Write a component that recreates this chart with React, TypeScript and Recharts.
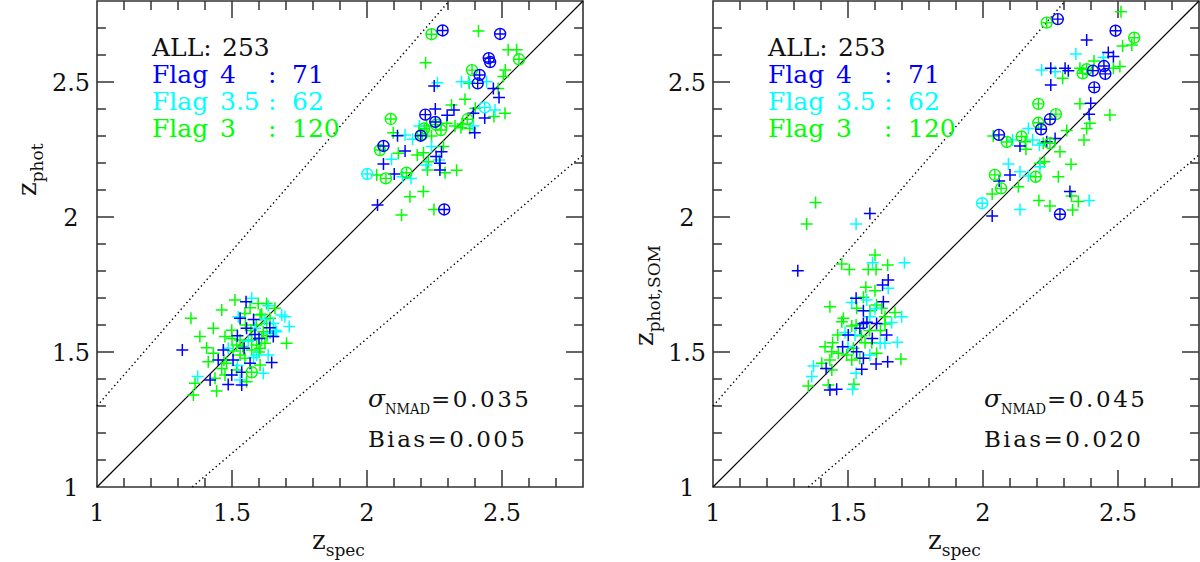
import React from 'react';
import { ScatterChart, Scatter, XAxis, YAxis, ReferenceLine, ReferenceArea } from 'recharts';

type Pt = [number, number];

const axisMin = 1;
const axisMax = 2.8;
const majorTicks = [1, 1.5, 2, 2.5];
const minorTicks = [1.1, 1.2, 1.3, 1.4, 1.6, 1.7, 1.8, 1.9, 2.1, 2.2, 2.3, 2.4, 2.6, 2.7];
const outlierFrac = 0.15;

// ---- left panel: z_phot vs z_spec ----
const photFlag4Ring: Pt[] = [
  [2.28, 2.691], [2.493, 2.678], [2.451, 2.588], [2.456, 2.574], [2.417, 2.526], [2.41, 2.495],
  [2.216, 2.379], [2.253, 2.352], [2.199, 2.301], [2.061, 2.263], [2.286, 2.028],
];
const photFlag35Ring: Pt[] = [[2.436, 2.406], [2.001, 2.159]];
const photFlag3Ring: Pt[] = [
  [2.239, 2.677], [2.563, 2.584], [2.389, 2.544], [2.372, 2.362], [2.088, 2.363], [2.256, 2.342],
  [2.274, 2.322], [2.212, 2.328], [2.205, 2.306], [2.048, 2.248], [2.146, 2.164], [2.07, 2.143],
  [1.573, 1.425],
];
const photFlag4: Pt[] = [
  [2.249, 2.485], [2.468, 2.476], [2.489, 2.443], [2.253, 2.4], [2.322, 2.396], [2.297, 2.377],
  [2.394, 2.384], [2.436, 2.367], [2.113, 2.301], [2.399, 2.312], [2.141, 2.244], [2.061, 2.196],
  [2.276, 2.242], [2.256, 2.224], [2.27, 2.199], [2.27, 2.174], [2.101, 2.159], [2.039, 2.044],
  [1.552, 1.686], [1.53, 1.625], [1.554, 1.588], [1.585, 1.565], [1.653, 1.557], [1.316, 1.507],
  [1.468, 1.507], [1.545, 1.514], [1.449, 1.47], [1.504, 1.47], [1.567, 1.458], [1.647, 1.461],
  [1.536, 1.425], [1.419, 1.396], [1.499, 1.415], [1.486, 1.38], [1.536, 1.378], [1.6, 1.55],
  [1.58, 1.62], [1.64, 1.59], [1.52, 1.56],
];
const photFlag35: Pt[] = [
  [2.261, 2.497], [2.35, 2.501], [2.376, 2.501], [2.443, 2.501], [2.474, 2.396], [2.141, 2.304],
  [2.169, 2.288], [2.194, 2.337], [2.394, 2.337], [2.091, 2.214], [2.239, 2.261], [2.267, 2.211],
  [2.219, 2.193], [2.132, 2.149], [2.163, 2.143],
  [1.573, 1.699], [1.634, 1.671], [1.684, 1.637], [1.696, 1.631], [1.523, 1.631], [1.653, 1.606],
  [1.712, 1.594], [1.585, 1.588], [1.641, 1.569], [1.486, 1.514], [1.591, 1.489], [1.634, 1.489],
  [1.616, 1.421], [1.373, 1.409], [1.53, 1.396], [1.665, 1.575], [1.62, 1.62], [1.56, 1.54],
  [1.66, 1.58], [1.52, 1.45], [1.58, 1.48],
];
const photFlag3: Pt[] = [
  [2.413, 2.689], [2.217, 2.571], [2.523, 2.619], [2.554, 2.619], [2.512, 2.544], [2.505, 2.52],
  [2.379, 2.495], [2.486, 2.476], [2.363, 2.436], [2.313, 2.415], [2.401, 2.403], [2.511, 2.384],
  [2.47, 2.372], [2.097, 2.312], [2.221, 2.337], [2.239, 2.3], [2.295, 2.347], [2.326, 2.337],
  [2.354, 2.344], [2.381, 2.328], [2.348, 2.331], [2.116, 2.236], [2.186, 2.23], [2.209, 2.238],
  [2.283, 2.261], [2.227, 2.205], [2.224, 2.174], [2.289, 2.164], [2.332, 2.173], [2.036, 2.156],
  [2.209, 2.094], [2.159, 2.075], [2.248, 2.028], [2.128, 2.007],
  [1.511, 1.693], [1.597, 1.68], [1.567, 1.664], [1.462, 1.656], [1.659, 1.662], [1.628, 1.68],
  [1.348, 1.625], [1.548, 1.643], [1.604, 1.637], [1.641, 1.625], [1.628, 1.606], [1.431, 1.588],
  [1.499, 1.581], [1.616, 1.575], [1.381, 1.557], [1.474, 1.557], [1.61, 1.551], [1.573, 1.544],
  [1.53, 1.544], [1.517, 1.526], [1.591, 1.526], [1.622, 1.532], [1.702, 1.532], [1.406, 1.516],
  [1.504, 1.504], [1.573, 1.507], [1.604, 1.514], [1.431, 1.495], [1.53, 1.489], [1.548, 1.477],
  [1.412, 1.464], [1.48, 1.458], [1.604, 1.452], [1.462, 1.439], [1.517, 1.433], [1.474, 1.415],
  [1.437, 1.403], [1.363, 1.384], [1.554, 1.39], [1.443, 1.356], [1.357, 1.341], [1.59, 1.6],
  [1.57, 1.58], [1.63, 1.56], [1.6, 1.5], [1.55, 1.6], [1.61, 1.64], [1.5, 1.55], [1.54, 1.52],
  [1.47, 1.47],
];

// ---- right panel: z_phot,SOM vs z_spec ----
const somFlag4Ring: Pt[] = [
  [2.277, 2.733], [2.491, 2.69], [2.407, 2.542], [2.448, 2.559], [2.453, 2.53], [2.412, 2.48],
  [2.248, 2.362], [2.215, 2.325], [2.059, 2.304], [2.285, 2.01],
];
const somFlag35Ring: Pt[] = [[1.997, 2.051]];
const somFlag3Ring: Pt[] = [
  [2.236, 2.72], [2.56, 2.664], [2.369, 2.532], [2.384, 2.547], [2.205, 2.419], [2.27, 2.381],
  [2.205, 2.349], [2.143, 2.298], [2.088, 2.278], [2.248, 2.273], [2.044, 2.156], [2.195, 2.149],
  [2.067, 2.106],
];
const somFlag4: Pt[] = [
  [2.384, 2.656], [2.464, 2.609], [2.483, 2.594], [2.251, 2.551], [2.304, 2.551], [2.316, 2.542],
  [2.251, 2.489], [2.399, 2.421], [2.393, 2.381], [2.137, 2.263], [2.236, 2.279], [2.267, 2.291],
  [2.1, 2.156], [2.06, 2.133], [2.322, 2.094], [2.034, 2.004],
  [1.581, 2.013], [1.314, 1.801], [1.649, 1.767], [1.628, 1.748], [1.53, 1.699], [1.631, 1.686],
  [1.557, 1.653], [1.557, 1.606], [1.544, 1.588], [1.606, 1.606], [1.501, 1.563], [1.643, 1.563],
  [1.48, 1.519], [1.532, 1.501], [1.557, 1.477], [1.604, 1.456], [1.647, 1.464], [1.419, 1.439],
  [1.551, 1.436], [1.433, 1.359], [1.458, 1.362], [1.57, 1.61], [1.59, 1.55],
];
const somFlag35: Pt[] = [
  [2.344, 2.604], [2.446, 2.591], [2.217, 2.544], [2.267, 2.538], [2.168, 2.328], [2.11, 2.285],
  [2.184, 2.285], [2.209, 2.267], [2.094, 2.196], [2.137, 2.168], [2.168, 2.152], [2.211, 2.186],
  [2.393, 2.061], [2.137, 2.028],
  [1.53, 1.974], [1.591, 1.831], [1.709, 1.831], [1.649, 1.736], [1.569, 1.693], [1.514, 1.683],
  [1.699, 1.631], [1.581, 1.631], [1.662, 1.609], [1.489, 1.572], [1.526, 1.563], [1.619, 1.532],
  [1.637, 1.532], [1.683, 1.536], [1.581, 1.489], [1.372, 1.448], [1.53, 1.421], [1.366, 1.409],
  [1.517, 1.362], [1.6, 1.66], [1.5, 1.52],
];
const somFlag3: Pt[] = [
  [2.511, 2.76], [2.517, 2.633], [2.551, 2.637], [2.411, 2.578], [2.507, 2.557], [2.483, 2.551],
  [2.295, 2.514], [2.359, 2.551], [2.359, 2.419], [2.47, 2.378], [2.396, 2.347], [2.384, 2.328],
  [2.31, 2.32], [2.038, 2.3], [2.156, 2.279], [2.159, 2.251], [2.223, 2.273], [2.285, 2.242],
  [2.374, 2.285], [2.211, 2.199], [2.227, 2.205], [2.326, 2.195], [2.279, 2.149], [2.034, 2.085],
  [2.131, 2.112], [2.328, 2.078], [2.353, 2.057], [2.207, 2.061], [2.248, 2.041], [2.332, 2.026],
  [1.38, 2.054], [1.347, 1.974], [1.477, 1.826], [1.505, 1.806], [1.6, 1.859], [1.575, 1.806],
  [1.604, 1.806], [1.647, 1.822], [1.566, 1.74], [1.6, 1.727], [1.433, 1.668], [1.557, 1.703],
  [1.606, 1.674], [1.625, 1.662], [1.532, 1.662], [1.581, 1.653], [1.674, 1.646], [1.637, 1.631],
  [1.483, 1.625], [1.477, 1.612], [1.637, 1.604], [1.514, 1.596], [1.462, 1.563], [1.563, 1.534],
  [1.588, 1.534], [1.443, 1.534], [1.415, 1.519], [1.52, 1.514], [1.44, 1.501], [1.464, 1.495],
  [1.495, 1.489], [1.606, 1.495], [1.544, 1.477], [1.514, 1.47], [1.403, 1.458], [1.433, 1.47],
  [1.696, 1.474], [1.44, 1.433], [1.353, 1.374], [1.427, 1.378], [1.522, 1.381], [1.58, 1.58],
  [1.55, 1.56], [1.53, 1.6], [1.62, 1.58],
];

const legendRows = [
  { flag: '4', count: '71' },
  { flag: '3.5', count: '62' },
  { flag: '3', count: '120' },
];
const totalCount = '253';

const BLUE = '#0000ff';
const CYAN = '#00ffff';
const GREEN = '#00ff00';
const INK = '#333';
const FONT = '"DejaVu Serif", serif';

const toXY = (pts: Pt[]) => pts.map(([x, y]) => ({ x, y }));

const plusShape = (color: string) => (p: any) => {
  const { cx, cy } = p;
  return (
    <path
      d={`M${cx - 6},${cy}H${cx + 6}M${cx},${cy - 6}V${cy + 6}`}
      stroke={color}
      strokeWidth={1.5}
      fill="none"
    />
  );
};

const ringShape = (color: string) => (p: any) => {
  const { cx, cy } = p;
  return (
    <g>
      <circle cx={cx} cy={cy} r={5.5} stroke={color} strokeWidth={1.4} fill="none" />
      <path
        d={`M${cx - 5.5},${cy}H${cx + 5.5}M${cx},${cy - 5.5}V${cy + 5.5}`}
        stroke={color}
        strokeWidth={1.4}
        fill="none"
      />
    </g>
  );
};

// tick marks drawn inward on all four sides (lengths in data units)
const MAJOR_LEN = 0.063;
const MINOR_LEN = 0.033;
function tickSegments() {
  const segs: { x: number; y: number }[][] = [];
  const add = (t: number, len: number) => {
    segs.push([{ x: t, y: axisMin }, { x: t, y: axisMin + len }]);
    segs.push([{ x: t, y: axisMax }, { x: t, y: axisMax - len }]);
    segs.push([{ x: axisMin, y: t }, { x: axisMin + len, y: t }]);
    segs.push([{ x: axisMax, y: t }, { x: axisMax - len, y: t }]);
  };
  majorTicks.filter((t) => t > axisMin).forEach((t) => add(t, MAJOR_LEN));
  minorTicks.forEach((t) => add(t, MINOR_LEN));
  return segs;
}

const XTick = (p: any) => (
  <text x={p.x} y={p.y + 34} textAnchor="middle" fontSize={24} fontFamily={FONT} fill="#111">
    {p.payload.value}
  </text>
);
const YTick = (p: any) => (
  <text x={p.x - 26} y={p.y + 9} textAnchor="middle" fontSize={24} fontFamily={FONT} fill="#111">
    {p.payload.value}
  </text>
);

interface PanelProps {
  leftPad: number;
  f4: Pt[];
  f35: Pt[];
  f3: Pt[];
  f4r: Pt[];
  f35r: Pt[];
  f3r: Pt[];
}

function Panel({ leftPad, f4, f35, f3, f4r, f35r, f3r }: PanelProps) {
  const upperX = (axisMax - outlierFrac) / (1 + outlierFrac);
  const lowerX = (1 + outlierFrac) / (1 - outlierFrac);
  return (
    <ScatterChart
      width={600}
      height={562}
      margin={{ top: 1, right: 600 - leftPad - 486, left: 0, bottom: 0 }}
    >
      <XAxis
        type="number"
        dataKey="x"
        domain={[axisMin, axisMax]}
        ticks={majorTicks}
        interval={0}
        allowDataOverflow
        axisLine={false}
        tickLine={false}
        tickSize={0}
        tickMargin={0}
        height={75}
        tick={XTick}
      />
      <YAxis
        type="number"
        dataKey="y"
        domain={[axisMin, axisMax]}
        ticks={majorTicks}
        interval={0}
        allowDataOverflow
        axisLine={false}
        tickLine={false}
        tickSize={0}
        tickMargin={0}
        width={leftPad}
        tick={YTick}
      />
      <ReferenceArea
        x1={axisMin}
        x2={axisMax}
        y1={axisMin}
        y2={axisMax}
        fill="none"
        fillOpacity={0}
        stroke={INK}
        strokeWidth={1.6}
      />
      {tickSegments().map((s, i) => (
        <ReferenceLine key={i} segment={s} stroke={INK} strokeWidth={1.5} ifOverflow="visible" />
      ))}
      <ReferenceLine
        segment={[{ x: axisMin, y: axisMin }, { x: axisMax, y: axisMax }]}
        stroke="#000"
        strokeWidth={1.2}
      />
      <ReferenceLine
        segment={[{ x: axisMin, y: axisMin + 2 * outlierFrac }, { x: upperX, y: axisMax }]}
        stroke="#000"
        strokeWidth={1.4}
        strokeDasharray="1.4 3"
      />
      <ReferenceLine
        segment={[{ x: lowerX, y: axisMin }, { x: axisMax, y: axisMax - outlierFrac * (1 + axisMax) }]}
        stroke="#000"
        strokeWidth={1.4}
        strokeDasharray="1.4 3"
      />
      <Scatter data={toXY(f3)} shape={plusShape(GREEN)} isAnimationActive={false} />
      <Scatter data={toXY(f35)} shape={plusShape(CYAN)} isAnimationActive={false} />
      <Scatter data={toXY(f4)} shape={plusShape(BLUE)} isAnimationActive={false} />
      <Scatter data={toXY(f3r)} shape={ringShape(GREEN)} isAnimationActive={false} />
      <Scatter data={toXY(f35r)} shape={ringShape(CYAN)} isAnimationActive={false} />
      <Scatter data={toXY(f4r)} shape={ringShape(BLUE)} isAnimationActive={false} />
    </ScatterChart>
  );
}

function Legend({ dx }: { dx: number }) {
  const colors = [BLUE, CYAN, GREEN];
  return (
    <g fontFamily={FONT} fontSize={25}>
      <text x={152 + dx} y={56} fill="#111">ALL:</text>
      <text x={222 + dx} y={56} fill="#111">{totalCount}</text>
      {legendRows.map((r, i) => {
        const y = 83 + i * 27;
        return (
          <g key={r.flag} fill={colors[i]}>
            <text x={152 + dx} y={y}>Flag</text>
            <text x={220 + dx} y={y}>{r.flag}</text>
            <text x={268 + dx} y={y}>:</text>
            <text x={292 + dx} y={y}>{r.count}</text>
          </g>
        );
      })}
    </g>
  );
}

function Stats({ dx, nmad, bias }: { dx: number; nmad: string; bias: string }) {
  return (
    <g fontFamily={FONT} fill="#111">
      <text x={368 + dx} y={407} fontSize={25} fontStyle="italic">σ</text>
      <text x={385 + dx} y={414} fontSize={14} textLength={45} lengthAdjust="spacingAndGlyphs">NMAD</text>
      <text x={431 + dx} y={407} fontSize={23} textLength={98}>{`=${nmad}`}</text>
      <text x={368 + dx} y={447} fontSize={23} textLength={157}>{`Bias=${bias}`}</text>
    </g>
  );
}

export default function App() {
  return (
    <div style={{ position: 'absolute', left: 0, top: 0, width: 1200, height: 562, background: '#fff' }}>
      <div style={{ position: 'absolute', left: 0, top: 0 }}>
        <Panel leftPad={97} f4={photFlag4} f35={photFlag35} f3={photFlag3}
          f4r={photFlag4Ring} f35r={photFlag35Ring} f3r={photFlag3Ring} />
      </div>
      <div style={{ position: 'absolute', left: 600, top: 0 }}>
        <Panel leftPad={113} f4={somFlag4} f35={somFlag35} f3={somFlag3}
          f4r={somFlag4Ring} f35r={somFlag35Ring} f3r={somFlag3Ring} />
      </div>
      <svg width={1200} height={562} style={{ position: 'absolute', left: 0, top: 0, pointerEvents: 'none' }}>
        <Legend dx={0} />
        <Legend dx={616} />
        <Stats dx={0} nmad="0.035" bias="0.005" />
        <Stats dx={616} nmad="0.045" bias="0.020" />
        <g fontFamily={FONT} fill="#111">
          <text x={312} y={549} fontSize={26}>
            z<tspan fontSize={17} dy={7}>spec</tspan>
          </text>
          <text x={928} y={549} fontSize={26}>
            z<tspan fontSize={17} dy={7}>spec</tspan>
          </text>
          <text transform="translate(36,196) rotate(-90)" fontSize={26}>
            z<tspan fontSize={17} dy={7}>phot</tspan>
          </text>
          <text transform="translate(653,346) rotate(-90)" fontSize={26}>
            z<tspan fontSize={17} dy={7}>phot,SOM</tspan>
          </text>
        </g>
      </svg>
    </div>
  );
}
